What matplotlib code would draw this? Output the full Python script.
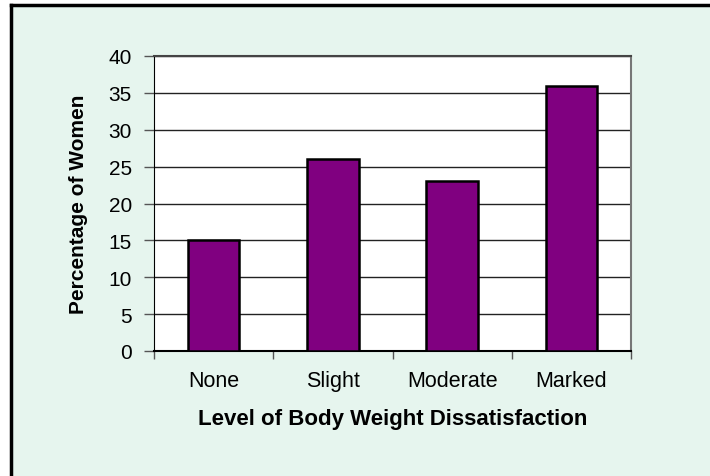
import matplotlib
matplotlib.use('Agg')
import matplotlib.pyplot as plt
from matplotlib.patches import Rectangle

categories = ['None', 'Slight', 'Moderate', 'Marked']
percent = [15, 26, 23, 36]
yticks = [0, 5, 10, 15, 20, 25, 30, 35, 40]

plt.rcParams['font.family'] = ['Liberation Sans', 'DejaVu Sans']

W, H = 710, 477
fig = plt.figure(figsize=(W / 100, H / 100), dpi=100)
fig.patch.set_facecolor('white')

# mint background panel with black border on top and left
bg = Rectangle((11 / W, 0), 1 - 11 / W, 1 - 6 / H, transform=fig.transFigure,
               facecolor='#e6f5ee', edgecolor='none', zorder=-2)
fig.patches.append(bg)
fig.add_artist(plt.Line2D([11 / W, 11 / W], [0, 1 - 6 / H], color='black', lw=2.5,
                          transform=fig.transFigure))
fig.add_artist(plt.Line2D([11 / W, 1], [1 - 6 / H, 1 - 6 / H], color='black', lw=2.5,
                          transform=fig.transFigure))

left, right, top, bottom = 154, 631, 57, 352
ax = fig.add_axes([left / W, 1 - bottom / H, (right - left) / W, (bottom - top) / H])
ax.set_facecolor('white')

x = range(len(categories))
ax.bar(x, percent, width=0.43, color='#800080', edgecolor='black', linewidth=1.8, zorder=3)

ax.set_xlim(-0.5, len(categories) - 0.5)
ax.set_ylim(0, 40)
ax.set_yticks(yticks)
ax.set_yticklabels([str(t) for t in yticks], fontsize=15)
ax.yaxis.grid(True, color='#222222', linewidth=1)
ax.set_axisbelow(True)

ax.set_xticks([i - 0.5 for i in range(len(categories) + 1)])
ax.set_xticklabels([])
ax.set_xticks(list(x), minor=True)
ax.set_xticklabels(categories, minor=True, fontsize=15.5)
ax.tick_params(axis='x', which='minor', length=0, pad=14)
ax.tick_params(axis='x', which='major', length=6, width=1, color='#555555', direction='out')
ax.tick_params(axis='y', length=7, width=1, color='#555555', pad=9)

ax.spines['left'].set_color('black')
ax.spines['bottom'].set_color('black')
ax.spines['bottom'].set_linewidth(1.5)
ax.spines['top'].set_color('#444444')
ax.spines['top'].set_linewidth(1.5)
ax.spines['right'].set_color('#777777')
ax.spines['right'].set_linewidth(1.5)

ax.set_xlabel('Level of Body Weight Dissatisfaction', fontsize=16, fontweight='bold',
              labelpad=12)
ax.set_ylabel('Percentage of Women', fontsize=15, fontweight='bold', labelpad=15)

fig.savefig('out.png', dpi=100)
